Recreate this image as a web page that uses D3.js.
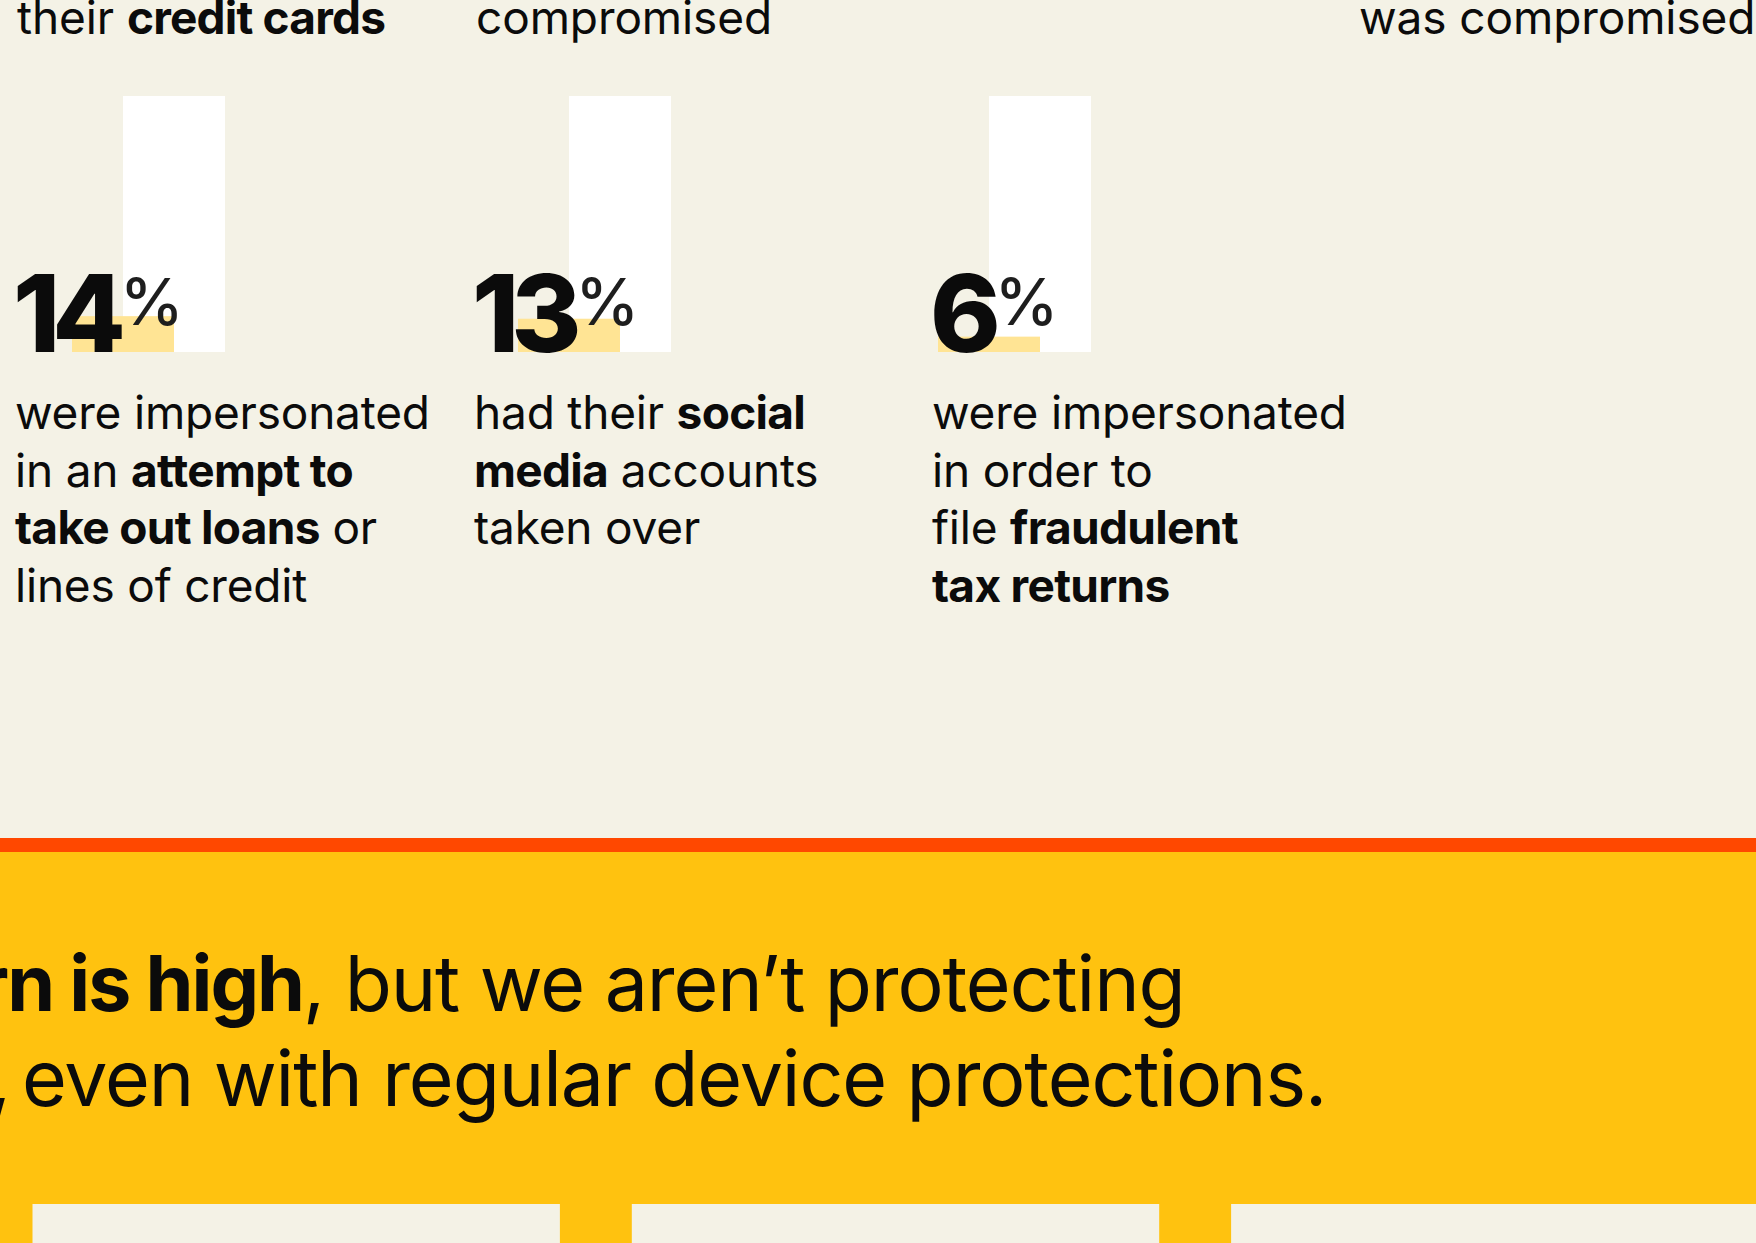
<!DOCTYPE html>
<html>
<head>
<meta charset="utf-8">
<script src="https://cdn.jsdelivr.net/npm/d3@7"></script>
<style>
  html, body { margin: 0; padding: 0; background: #F4F2E6; overflow: hidden; }
  svg { display: block; font-family: Inter, "Noto Sans", sans-serif; }
</style>
</head>
<body>
<svg id="chart" width="1756" height="1243"></svg>
<script>
// ---- data -------------------------------------------------------------
const values = [14, 13, 6];          // share of respondents, %
const trackMax = 100;                // full-height track = 100 %
const headlines = ["their **credit cards**", "compromised", "was compromised"];
const descriptions = [
  ["were impersonated", "in an **attempt to**", "**take out loans** or", "lines of credit"],
  ["had their **social**", "**media** accounts", "taken over"],
  ["were impersonated", "in order to", "file **fraudulent**", "**tax returns**"]
];
const bannerLines = [
  "**rn is high**, but we aren’t protecting",
  ", even with regular device protections."
];
const panelCount = 3;

// ---- layout -----------------------------------------------------------
const W = 1756, H = 1243;
const colX = [17, 476, 934];           // text column starts
const headX = [17, 476, 1359];         // top text row starts
const trackX = [123, 569, 989];        // left edge of white tracks
const trackW = 102;
const C = {
  bg: "#F4F2E6", ink: "#0B0B0B", pct: "#1E1E1E",
  track: "#FFFFFF", fill: "#FFE494",
  stripe: "#FF4800", banner: "#FFC20F"
};

const svg = d3.select("#chart");
svg.append("rect").attr("width", W).attr("height", H).attr("fill", C.bg);

const y = d3.scaleLinear().domain([0, trackMax]).range([352, 96]);

// split "**bold**" markup into tspans
function richText(sel, str, lsReg, lsBold) {
  str.split("**").forEach((part, i) => {
    if (!part) return;
    sel.append("tspan")
      .attr("font-weight", i % 2 ? 700 : 400)
      .attr("letter-spacing", i % 2 ? lsBold : lsReg)
      .text(part);
  });
  return sel;
}

// top text row
svg.append("g").selectAll("text").data(headlines).join("text")
  .attr("x", (d, i) => headX[i]).attr("y", 34)
  .attr("font-size", 46).attr("fill", C.ink)
  .each(function (d) { richText(d3.select(this), d, -0.1, -0.8); });

// bars: white 100 % track, yellow value bar centred on the track's left edge
const bars = svg.append("g").selectAll("g").data(values).join("g");
bars.append("rect")
  .attr("x", (d, i) => trackX[i]).attr("width", trackW)
  .attr("y", y(trackMax)).attr("height", y(0) - y(trackMax))
  .attr("fill", C.track);
bars.append("rect")
  .attr("x", (d, i) => trackX[i] - trackW / 2).attr("width", trackW)
  .attr("y", d => y(d)).attr("height", d => y(0) - y(d))
  .attr("fill", C.fill);

// big numbers with superscript percent sign
bars.each(function (d, i) {
  const g = d3.select(this);
  const num = g.append("text")
    .attr("x", colX[i] - 4).attr("y", y(0))
    .attr("font-size", 107).attr("font-weight", 800)
    .attr("letter-spacing", -8)
    .attr("fill", C.ink).text(d);
  const w = num.node().getComputedTextLength();
  g.append("text")
    .attr("x", colX[i] - 4 + w + 2).attr("y", y(0) - 27)
    .attr("font-size", 64).attr("font-weight", 500)
    .attr("fill", C.pct).text("%");
});

// descriptions
descriptions.forEach((lines, i) => {
  svg.append("g").selectAll("text").data(lines).join("text")
    .attr("x", colX[i] - 2).attr("y", (d, j) => 429 + j * 57.5)
    .attr("font-size", 46).attr("fill", C.ink)
    .each(function (d) { richText(d3.select(this), d, -0.2, -0.7); });
});

// banner
svg.append("rect").attr("x", 0).attr("y", 838).attr("width", W).attr("height", 14).attr("fill", C.stripe);
svg.append("rect").attr("x", 0).attr("y", 852).attr("width", W).attr("height", H - 852).attr("fill", C.banner);

const b1 = richText(svg.append("text").attr("y", 1011).attr("font-size", 77).attr("fill", C.ink),
  bannerLines[0], -1.1, -2);
const boldLen = b1.select("tspan").node().getComputedTextLength();
b1.attr("x", 303 - boldLen);

// second line: leading comma sits at the left edge, words start at x = 22
const b2 = svg.append("text").attr("y", 1106).attr("font-size", 77)
  .attr("letter-spacing", -1.1).attr("fill", C.ink);
b2.append("tspan").attr("x", -11).text(bannerLines[1].slice(0, 1));
b2.append("tspan").attr("x", 22).text(bannerLines[1].slice(1).trim());

// cream panels along the bottom
const panels = d3.scaleBand().domain(d3.range(panelCount)).range([32.5, 1758.5]).paddingInner(0.12);
svg.append("g").selectAll("rect").data(d3.range(panelCount)).join("rect")
  .attr("x", d => panels(d)).attr("width", panels.bandwidth())
  .attr("y", 1204).attr("height", H - 1204)
  .attr("fill", C.bg);
</script>
</body>
</html>
